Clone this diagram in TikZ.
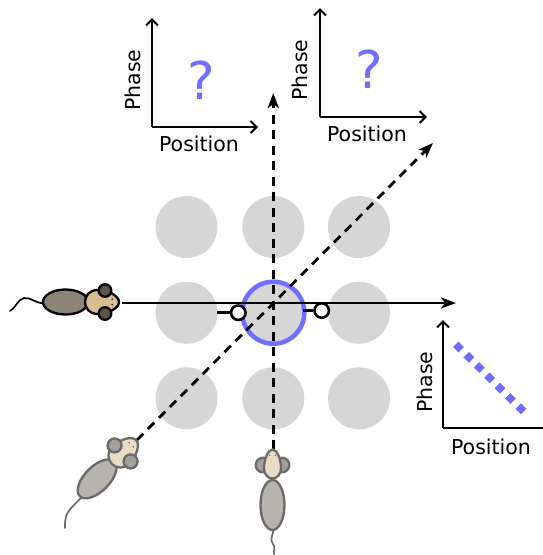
\documentclass[tikz,border=0pt]{standalone}
\usepackage{fontspec}
\setmainfont{DejaVu Sans}
\usetikzlibrary{arrows.meta,shapes.geometric}

\definecolor{fieldgrey}{HTML}{D6D6D6}
\definecolor{ringblue}{HTML}{6E6EFF}
\definecolor{darkbody}{HTML}{8C8479}
\definecolor{darkhead}{HTML}{D9BC92}
\definecolor{darkear}{HTML}{5E5346}
\definecolor{lightbody}{HTML}{B7B3AD}
\definecolor{lighthead}{HTML}{EADCC4}
\definecolor{lightear}{HTML}{A3A09C}
\definecolor{lightline}{HTML}{6A6A6A}

% mouse parts, drawn pointing up with the head centre at the local origin
% body: #1 fill, #2 outline, #3 centre offset, #4 half width, #5 half length
\newcommand{\mousebody}[5]{%
  \draw[line width=2.3, draw=#2, fill=#1] (0,#3) ellipse [x radius=#4, y radius=#5];
}
% head: #1 fill, #2 outline, #3 half width, #4 half length
\newcommand{\mousehead}[4]{%
  \draw[line width=2.3, draw=#2, fill=#1]
    (0,-#4) .. controls (0.55*#3,-#4) and (#3,-0.3*#4) .. (#3,0.25*#4)
    .. controls (#3,0.75*#4) and (0.5*#3,#4) .. (0,#4)
    .. controls (-0.5*#3,#4) and (-#3,0.75*#4) .. (-#3,0.25*#4)
    .. controls (-#3,-0.3*#4) and (-0.55*#3,-#4) .. (0,-#4) -- cycle;
  \fill[#2] (-2.8,-0.6*#4) circle [radius=0.8] (2.8,-0.6*#4) circle [radius=0.8];
}
% ears: #1 fill, #2 outline, #3 side offset, #4 offset along, #5 radius
\newcommand{\mouseears}[5]{%
  \draw[line width=2.3, draw=#2, fill=#1] (-#3,#4) circle [radius=#5];
  \draw[line width=2.3, draw=#2, fill=#1] (#3,#4) circle [radius=#5];
}

\tikzset{
  field/.style={circle, fill=fieldgrey, minimum size=62, inner sep=0},
  runpath/.style={line width=2.8, -{Stealth[length=15pt,width=11pt,inset=4pt]}},
  dashedpath/.style={runpath, dash pattern=on 9pt off 6.5pt},
  axis/.style={line width=2.1, -{Straight Barb[length=6pt,width=12pt]}},
  axlabel/.style={font=\fontsize{20.5}{24}\selectfont, inner sep=0},
  query/.style={font=\fontsize{52}{60}\selectfont, text=ringblue, inner sep=0},
  spike/.style={circle, draw, line width=2.6, fill=white, minimum size=14.5, inner sep=0},
  dot/.style={diamond, fill=ringblue, minimum size=11, inner sep=0},
  tail/.style={line width=1.7, line cap=round},
}

\begin{document}
\begin{tikzpicture}[x=1pt,y=-1pt]
\useasboundingbox (0,0) rectangle (542,555);

% grid of firing fields
\node[field] (f11) at (186.5,227) {};
\node[field] (f12) at (273.3,227) {};
\node[field] (f13) at (359,227) {};
\node[field] (f21) at (186.5,312.7) {};
\node[field, draw=ringblue, line width=4.5, minimum size=62] (f22) at (273.3,312.7) {};
\node[field] (f23) at (359,312.7) {};
\node[field] (f31) at (186.5,398.3) {};
\node[field] (f32) at (273.3,398.3) {};
\node[field] (f33) at (359,398.3) {};

% running paths
\coordinate (hstart) at (122,303);
\coordinate (hend) at (456,303);
\coordinate (vstart) at (273.3,449);
\coordinate (vend) at (273.3,93);
\coordinate (dstart) at (137,440);
\coordinate (dend) at (433,143);
\draw[runpath] (hstart) -- (hend);
\draw[dashedpath] (vstart) -- (vend);
\draw[dashedpath] (dstart) -- (dend);

% spikes at field entry
\node[spike] (sl) at (238.3,312.7) {};
\node[spike] (sr) at (321.7,310.5) {};
\coordinate (slstub) at (217,312.7);
\coordinate (srstub) at (302.5,310.5);
\draw[line width=2.8] (slstub) -- (sl.west);
\draw[line width=2.8] (srstub) -- (sr.west);

% mouse running right
\draw[tail] (44,303) .. controls (36,304) and (31,297) .. (24,298)
  .. controls (18,299) and (15,309) .. (10,311);
\begin{scope}[shift={(102,302)}, rotate=-90]
  \mousebody{darkbody}{black}{36.5}{12.5}{22.5}
  \mousehead{darkhead}{black}{12}{17}
  \mouseears{darkear}{black}{11.5}{-3}{6.3}
\end{scope}

% mouse running diagonally
\draw[tail, draw=lightline] (84,494) .. controls (78,502) and (72,506) .. (68,512)
  .. controls (65,517) and (65,522) .. (65,528);
\begin{scope}[shift={(124,452)}, rotate=-45]
  \mousebody{lightbody}{lightline}{38}{12.5}{24.5}
  \mousehead{lighthead}{lightline}{12}{17}
  \mouseears{lightear}{lightline}{11.3}{2}{7}
\end{scope}

% mouse running up
\draw[tail, draw=lightline] (273.5,530) .. controls (272,537) and (270,540) .. (273,544)
  .. controls (276,548) and (273,551) .. (274,554);
\begin{scope}[shift={(272.5,464)}]
  \mousebody{lightbody}{lightline}{41}{12}{25}
  \mouseears{lightear}{lightline}{9.5}{1}{7.3}
  \mousehead{lighthead}{lightline}{8.5}{14.5}
\end{scope}

% phase plot for the vertical run
\coordinate (o1) at (152,127);
\coordinate (y1) at (152,18);
\coordinate (x1) at (258,127);
\draw[axis] (o1) -- (y1);
\draw[axis] (o1) -- (x1);
\node[axlabel, rotate=90] (p1) at (133,80) {Phase};
\node[axlabel] (q1) at (199,144) {Position};
\node[query] (r1) at (201,80) {?};

% phase plot for the diagonal run
\coordinate (o2) at (320,117);
\coordinate (y2) at (320,8);
\coordinate (x2) at (427,117);
\draw[axis] (o2) -- (y2);
\draw[axis] (o2) -- (x2);
\node[axlabel, rotate=90] (p2) at (300,70) {Phase};
\node[axlabel] (q2) at (367,134) {Position};
\node[query] (r2) at (369,69) {?};

% phase plot for the horizontal run
\coordinate (o3) at (443,428);
\coordinate (y3) at (443,320);
\coordinate (x3) at (562,428);
\draw[axis] (o3) -- (y3);
\draw[axis] (o3) -- (x3);
\node[axlabel, rotate=90] (p3) at (425,382) {Phase};
\node[axlabel] (q3) at (491,447) {Position};
\foreach \k in {0,...,6}{
  \node[dot] (d\k) at ({458.5+10.4*\k},{347+10.3*\k}) {};
}
\end{tikzpicture}
\end{document}
